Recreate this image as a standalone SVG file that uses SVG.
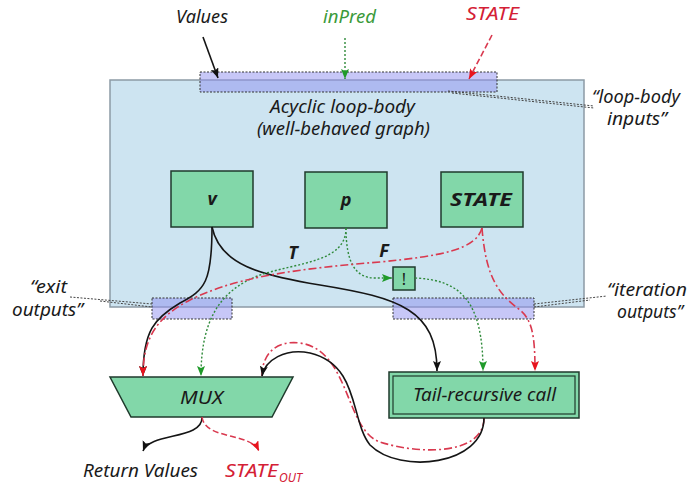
<svg xmlns="http://www.w3.org/2000/svg" width="688" height="490" viewBox="0 0 688 490">
<style>
text{font-family:"Noto Sans","DejaVu Sans",sans-serif;font-style:italic;font-size:18px;fill:#1a1a1a}
.bold{font-weight:bold}
.red{fill:#d42035}
.grn{fill:#3a9a3a}
.node{fill:#82d7a9;stroke:#1f3a2c;stroke-width:1.5}
.bar{fill:#9090f0;fill-opacity:0.5;stroke:#333;stroke-width:1;stroke-dasharray:2 1.5}
.lead{fill:none;stroke:#444;stroke-width:1;stroke-dasharray:2 1.5}
.blk{fill:none;stroke:#151515;stroke-width:1.6}
.gd{fill:none;stroke:#2f8a3a;stroke-width:1.4;stroke-dasharray:2 2}
.rd{fill:none;stroke:#d9394f;stroke-width:1.6;stroke-dasharray:8 3 2 3}
.rdash{fill:none;stroke:#d9394f;stroke-width:1.6;stroke-dasharray:6 3}
</style>
<defs>
<marker id="ab" markerUnits="userSpaceOnUse" markerWidth="12" markerHeight="10" refX="10" refY="4" orient="auto"><path d="M0,0 L10,4 L0,8 L2,4 z" fill="#111"/></marker>
<marker id="ag" markerUnits="userSpaceOnUse" markerWidth="12" markerHeight="10" refX="10" refY="4" orient="auto"><path d="M0,0 L10,4 L0,8 L2,4 z" fill="#1f9a2a"/></marker>
<marker id="ar" markerUnits="userSpaceOnUse" markerWidth="12" markerHeight="10" refX="10" refY="4" orient="auto"><path d="M0,0 L10,4 L0,8 L2,4 z" fill="#e8141e"/></marker>
</defs>

<g id="loop-body">
<rect x="110" y="80" width="474" height="227" fill="#cde4f1" stroke="#8c9aa5" stroke-width="1.5"/>
<text x="270" y="113" textLength="145" lengthAdjust="spacingAndGlyphs">Acyclic loop-body</text>
<text x="257" y="135" textLength="173" lengthAdjust="spacingAndGlyphs">(well-behaved graph)</text>
</g>

<g id="loop-body-inputs">
<rect class="bar" x="200" y="72" width="297" height="20"/>
<path class="lead" d="M448,91 L594,106 M452,93 L594,108"/>
<text x="592" y="103" textLength="88" lengthAdjust="spacingAndGlyphs">“loop-body</text>
<text x="607" y="125" textLength="60" lengthAdjust="spacingAndGlyphs">inputs”</text>
</g>

<g id="v"><rect class="node" x="171" y="171" width="82" height="56"/><text class="bold" x="212" y="205" text-anchor="middle">v</text></g>
<g id="p"><rect class="node" x="305" y="172" width="82" height="56"/><text class="bold" x="346" y="206" text-anchor="middle">p</text></g>
<g id="state"><rect class="node" x="441" y="172" width="82" height="55"/><text class="bold" x="450" y="206" textLength="62" lengthAdjust="spacingAndGlyphs">STATE</text></g>
<g id="not"><rect class="node" x="393" y="267" width="22" height="23"/><text x="404" y="285" text-anchor="middle" style="font-style:normal;font-size:16px">!</text></g>

<g id="exit-outputs">
<rect class="bar" x="152" y="298" width="80" height="21"/>
<path class="lead" d="M70,297 L152,304 M100,301 L152,307"/>
<text x="30" y="293" textLength="37" lengthAdjust="spacingAndGlyphs">“exit</text>
<text x="12" y="316" textLength="71" lengthAdjust="spacingAndGlyphs">outputs”</text>
</g>

<g id="iteration-outputs">
<rect class="bar" x="393" y="298" width="141" height="21"/>
<path class="lead" d="M534,304 L607,296 M534,307 L590,300"/>
<text x="607" y="296" textLength="80" lengthAdjust="spacingAndGlyphs">“iteration</text>
<text x="617" y="318" textLength="66" lengthAdjust="spacingAndGlyphs">outputs”</text>
</g>

<g id="mux"><path class="node" d="M110,377 L293,377 L272,417 L131,417 z"/><text x="180" y="404" textLength="43" lengthAdjust="spacingAndGlyphs">MUX</text></g>

<g id="tail">
<rect class="node" x="389" y="372" width="190" height="46"/>
<rect x="393" y="376" width="182" height="38" fill="none" stroke="#1f3a2c" stroke-width="1.2"/>
<text x="413" y="401" textLength="143" lengthAdjust="spacingAndGlyphs">Tail-recursive call</text>
</g>

<g id="connectors">
<path class="blk" d="M203,37 L218,78" marker-end="url(#ab)"/>
<path class="gd" d="M345,38 L345,79" marker-end="url(#ag)"/>
<path class="rdash" d="M492,35 L469,79" marker-end="url(#ar)"/>

<path class="blk" d="M212,227 C212,282 205,290 180,303 C155,318 143,330 143,376" marker-end="url(#ab)"/>
<path class="blk" d="M212,227 C220,265 260,275 320,285 C400,298 437,310 437,371" marker-end="url(#ab)"/>
<path class="gd" d="M346,228 C346,262 300,262 260,275 C220,290 201,320 201,376" marker-end="url(#ag)"/>
<path class="gd" d="M346,228 C346,262 355,278 375,278 L392,278" marker-end="url(#ag)"/>
<path class="gd" d="M415,278 C460,280 483,300 483,371" marker-end="url(#ag)"/>
<path class="rd" d="M482,228 C476,250 440,256 380,262 C280,270 230,280 190,300 C155,318 143,340 143,376" marker-end="url(#ar)"/>
<path class="rd" d="M482,228 C486,280 500,295 520,310 C532,320 535,335 535,371" marker-end="url(#ar)"/>

<path class="rd" d="M484,418 C484,455 420,455 380,442 C345,430 350,350 300,343 C275,340 262,355 262,376"/>
<path class="blk" d="M484,418 C484,465 400,475 370,445 C350,420 360,365 310,353 C285,348 265,360 262,376" marker-end="url(#ab)"/>

<path class="blk" d="M202,417 C203,440 150,432 143,451" marker-end="url(#ab)"/>
<path class="rdash" d="M202,417 C205,440 250,432 259,451" marker-end="url(#ar)"/>
</g>

<g id="labels">
<text x="176" y="23" textLength="52" lengthAdjust="spacingAndGlyphs">Values</text>
<text class="grn" x="323" y="23" textLength="53" lengthAdjust="spacingAndGlyphs">inPred</text>
<text class="red" x="466" y="20" textLength="53" lengthAdjust="spacingAndGlyphs">STATE</text>
<text class="bold" x="293" y="259" text-anchor="middle">T</text>
<text class="bold" x="384" y="257" text-anchor="middle">F</text>
<text x="83" y="477" textLength="115" lengthAdjust="spacingAndGlyphs">Return Values</text>
<text class="red" x="225" y="477"><tspan textLength="53" lengthAdjust="spacingAndGlyphs">STATE</tspan><tspan x="279" dy="5" font-size="12" textLength="23" lengthAdjust="spacingAndGlyphs">OUT</tspan></text>
</g>
</svg>
